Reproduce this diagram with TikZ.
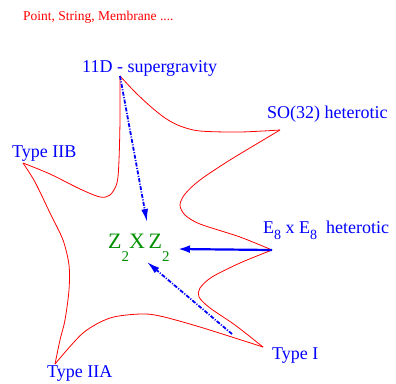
\documentclass[tikz,border=0pt]{standalone}
\usepackage{fontspec}
\setmainfont{Liberation Serif}
\usetikzlibrary{arrows.meta}

\definecolor{figblue}{RGB}{0,0,255}
\definecolor{figred}{RGB}{255,0,0}
\definecolor{figgreen}{RGB}{0,144,0}

\newcommand{\figsub}[3]{\raisebox{-#1}{\fontsize{#2}{#2}\selectfont #3}}

\begin{document}
\begin{tikzpicture}[
  x=1pt, y=-1pt,
  theory/.style={anchor=base west, inner sep=0pt, text=figblue,
    font=\fontsize{18}{20}\selectfont},
  edge/.style={draw=figred, line width=0.8pt},
  dual/.style={-{Latex[length=13pt,width=7pt]}, draw=figblue,
    line width=1.8pt, dash pattern=on 4pt off 1.5pt on 1pt off 1.5pt},
  limit/.style={-{Latex[length=12pt,width=8pt]}, draw=figblue,
    line width=2.2pt},
]
\useasboundingbox (0,0) rectangle (396,383);

% corners of the star
\coordinate (sugra) at (120,76);
\coordinate (so32)  at (280,130);
\coordinate (e8)    at (272,250);
\coordinate (typeI) at (263,347);
\coordinate (iia)   at (55,364);
\coordinate (iib)   at (23,163);

\draw[edge] plot[smooth, tension=0.5] coordinates {
  (sugra) (135,92) (150,106) (165,118) (180,126) (200,131) (240,132) (so32)};
\draw[edge] plot[smooth, tension=0.5] coordinates {
  (so32) (230,160) (200,180) (185,194) (180,205) (185,215) (200,224) (240,237) (e8)};
\draw[edge] plot[smooth, tension=0.5] coordinates {
  (e8) (240,263) (212,277) (200,288) (199,297) (210,308) (235,325) (typeI)};
\draw[edge] plot[smooth, tension=0.5] coordinates {
  (typeI) (200,327) (160,316) (140,314) (110,318) (83,333) (iia)};
\draw[edge] plot[smooth, tension=0.5] coordinates {
  (iia) (60,340) (65,320) (69,290) (69,265) (63,240) (50,213) (35,182) (iib)};
\draw[edge] plot[smooth, tension=0.5] coordinates {
  (iib) (50,174) (80,189) (100,197) (110,195) (117,183) (119,160) (120,120) (sugra)};

\node[anchor=base west, inner sep=0pt, text=figred,
      font=\fontsize{13.5}{15}\selectfont] (title) at (23,20)
      {Point, String, Membrane ....};

\node[theory] (l11d) at (82,72)  {11D - supergravity};
\node[theory] (lso)  at (267,118) {SO(32) heterotic};
\node[theory] (liib) at (12,157) {Type IIB};
\node[theory] (le8)  at (263,233)
      {E\figsub{6pt}{14}{8} x E\figsub{6pt}{14}{8}\enspace heterotic};
\node[theory] (lI)   at (272,359) {Type I};
\node[theory] (liia) at (47,377) {Type IIA};

\node[theory, text=figgreen, font=\fontsize{22}{24}\selectfont] (lz) at (108,248)
      {Z\figsub{13pt}{15}{2}X\,Z\figsub{13pt}{15}{2}};

\coordinate (zN) at (147,222);
\coordinate (zE) at (178,249);
\coordinate (zS) at (147,262);
\coordinate (tI) at (232,334);

\draw[dual]  (sugra) -- (zN);
\draw[limit] (e8) -- (zE);
\draw[dual]  (tI) -- (zS);

\end{tikzpicture}
\end{document}
